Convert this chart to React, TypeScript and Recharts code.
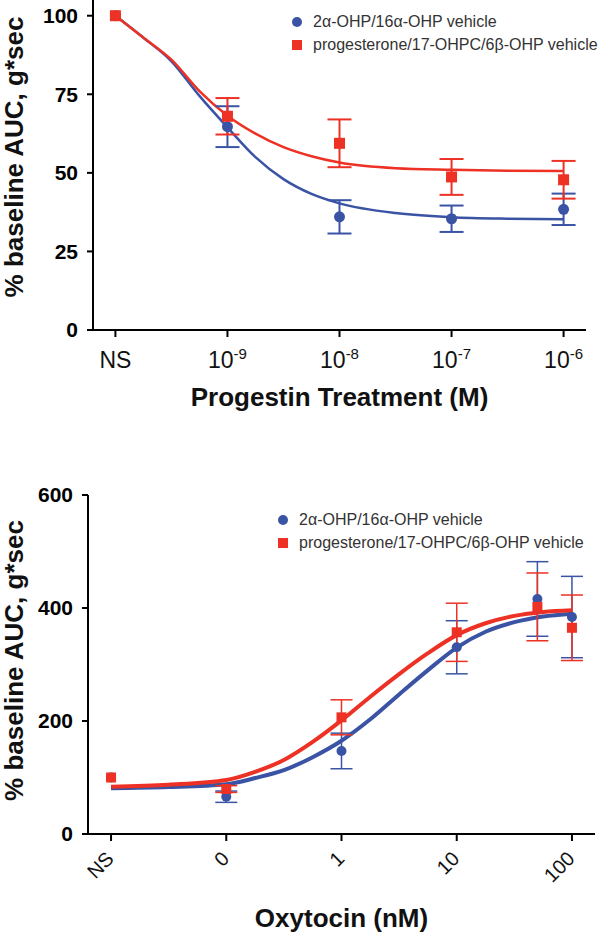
import React from 'react';
import { ComposedChart, Line, Scatter, XAxis, YAxis, ErrorBar, Legend, Label } from 'recharts';

const BLUE = '#3a53a4';
const RED = '#ed3124';
const FONT = '"Liberation Sans", Arial, Helvetica, sans-serif';

const seriesNames = ['2\u03b1-OHP/16\u03b1-OHP vehicle', 'progesterone/17-OHPC/6\u03b2-OHP vehicle'];
const yTitle = '% baseline AUC, g*sec';

// top panel - progestin dose (NS, 1e-9 .. 1e-6 M), positions on a log axis
const progX = [0, 1, 2, 3, 4];
const progTickBase = ['NS', '10', '10', '10', '10'];
const progTickExp = ['', '-9', '-8', '-7', '-6'];
const progYTicks = [0, 25, 50, 75, 100];
const progBlueMean = [100, 64.7, 36.0, 35.4, 38.4];
const progBlueSem = [null, 6.5, 5.3, 4.2, 5.0];
const progRedMean = [100, 68.0, 59.4, 48.7, 47.8];
const progRedSem = [null, 5.8, 7.6, 5.7, 6.0];
// fitted curves
const progFitX = [0, 0.25, 0.5, 0.75, 1, 1.25, 1.5, 1.75, 2, 2.5, 3, 3.5, 4];
const progBlueFit = [100, 93, 85.5, 74.5, 64.5, 55, 48, 43.3, 40.3, 37.2, 35.9, 35.4, 35.2];
const progRedFit = [100, 93, 86, 76, 68.2, 62.5, 58.2, 55.3, 53.3, 51.5, 51.0, 50.7, 50.6];

// bottom panel - oxytocin (nM)
const oxyX = [0, 1, 2, 3, 3.7, 4];
const oxyTicks = [0, 1, 2, 3, 4];
const oxyTickLabels = ['NS', '0', '1', '10', '100'];
const oxyYTicks = [0, 200, 400, 600];
const oxyBlueMean = [100, 66, 147, 330.5, 416, 384];
const oxyBlueSem = [null, 10, 31.5, 47, 66, 72];
const oxyRedMean = [100, 79.6, 206.5, 357, 402, 365];
const oxyRedSem = [null, 6, 31, 51.5, 60, 58];
const oxyFitX = [0, 0.5, 1, 1.25, 1.5, 1.75, 2, 2.25, 2.5, 2.75, 3, 3.25, 3.5, 3.75, 4];
const oxyBlueFit = [81, 83, 88, 99, 113, 136, 165, 203, 247, 290, 330, 358, 375, 385, 390];
const oxyRedFit = [83.7, 87.3, 95.6, 110, 131, 163, 201, 243, 283, 320, 352, 373, 386, 393, 396];

const pts = (xs: number[], ys: number[], es: (number | null)[]) =>
  xs.map((x, i) => ({ x, y: ys[i], err: es[i] }));
const curve = (xs: number[], ys: number[]) => xs.map((x, i) => ({ x, y: ys[i] }));

const circleShape = (r: number) => (p: any) => <circle cx={p.cx} cy={p.cy} r={r} fill={BLUE} />;
const squareShape = (s: number) => (p: any) => (
  <rect x={p.cx - s / 2} y={p.cy - s / 2} width={s} height={s} fill={RED} />
);

const ProgTick = (props: any) => {
  const i = progX.indexOf(props.payload.value);
  return (
    <text x={props.x} y={props.y + 31} textAnchor="middle" fontFamily={FONT} fontSize={23} fill="#111">
      {progTickBase[i]}
      {progTickExp[i] && (
        <tspan dy={-9} fontSize={15}>
          {progTickExp[i]}
        </tspan>
      )}
    </text>
  );
};

const OxyTick = (props: any) => {
  const i = oxyTicks.indexOf(props.payload.value);
  return (
    <g transform={`translate(${props.x + 4},${props.y + 19})`}>
      <text textAnchor="end" transform="rotate(-45)" fontFamily={FONT} fontSize={20} fill="#111">
        {oxyTickLabels[i]}
      </text>
    </g>
  );
};

const yTitleContent = (dy: number) => (p: any) => {
  const cy = p.viewBox.y + p.viewBox.height / 2 + dy;
  return (
    <text
      x={14}
      y={cy}
      transform={`rotate(-90 14 ${cy})`}
      textAnchor="middle"
      dominantBaseline="central"
      fontFamily={FONT}
      fontSize={26}
      fontWeight="bold"
      fill="#111"
    >
      {yTitle}
    </text>
  );
};

const xTitleContent = (text: string, baseline: number) => (p: any) => (
  <text
    x={p.viewBox.x + p.viewBox.width / 2}
    y={baseline}
    textAnchor="middle"
    fontFamily={FONT}
    fontSize={26}
    fontWeight="bold"
    fill="#111"
  >
    {text}
  </text>
);

const LegendBox = () => (
  <div style={{ fontFamily: FONT, fontSize: 16, color: '#333', width: 330 }}>
    {seriesNames.map((name, i) => (
      <div key={name} style={{ position: 'relative', height: 23.5, whiteSpace: 'nowrap' }}>
        <svg width={12} height={12} style={{ position: 'absolute', left: 0, top: 5.75 }}>
          {i === 0 ? <circle cx={6} cy={6} r={5} fill={BLUE} /> : <rect x={1} y={1} width={10} height={10} fill={RED} />}
        </svg>
        <span style={{ position: 'absolute', left: 22, top: 2.5, lineHeight: '18px' }}>{name}</span>
      </div>
    ))}
  </div>
);

const axisLine = { stroke: '#000', strokeWidth: 2 };
const yTickStyle = { fontFamily: FONT, fontSize: 21, fontWeight: 'bold', fill: '#000' };

export default function App() {
  return (
    <div style={{ position: 'absolute', left: 0, top: 0, width: 606, height: 933, background: '#fff', overflow: 'hidden' }}>
      <div style={{ position: 'absolute', left: 0, top: 0 }}>
        <ComposedChart width={606} height={420} margin={{ top: 0, right: 20, bottom: 10, left: 1 }}>
          <XAxis
            type="number"
            dataKey="x"
            domain={[-0.2, 4.2]}
            ticks={progX}
            tick={<ProgTick />}
            tickSize={7}
            tickMargin={0}
            height={80}
            axisLine={axisLine}
            tickLine={axisLine}
          >
            <Label content={xTitleContent('Progestin Treatment (M)', 406)} />
          </XAxis>
          <YAxis
            type="number"
            domain={[0, 105]}
            ticks={progYTicks}
            width={92}
            tickSize={6}
            tickMargin={9}
            tick={yTickStyle}
            axisLine={axisLine}
            tickLine={axisLine}
          >
            <Label content={yTitleContent(-8)} />
          </YAxis>
          <Legend
            layout="vertical"
            align="center"
            verticalAlign="middle"
            content={<LegendBox />}
            wrapperStyle={{ left: 291, top: 10, width: 330 }}
          />
          <Line data={curve(progFitX, progBlueFit)} dataKey="y" type="monotone" stroke={BLUE} strokeWidth={2.5} dot={false} isAnimationActive={false} />
          <Line data={curve(progFitX, progRedFit)} dataKey="y" type="monotone" stroke={RED} strokeWidth={2.5} dot={false} isAnimationActive={false} />
          <Scatter data={pts(progX, progBlueMean, progBlueSem)} dataKey="y" shape={circleShape(5.5)} isAnimationActive={false}>
            <ErrorBar dataKey="err" direction="y" width={12} stroke={BLUE} strokeWidth={2} isAnimationActive={false} />
          </Scatter>
          <Scatter data={pts(progX, progRedMean, progRedSem)} dataKey="y" shape={squareShape(11)} isAnimationActive={false}>
            <ErrorBar dataKey="err" direction="y" width={12} stroke={RED} strokeWidth={2} isAnimationActive={false} />
          </Scatter>
        </ComposedChart>
      </div>
      <div style={{ position: 'absolute', left: 0, top: 440 }}>
        <ComposedChart width={606} height={493} margin={{ top: 55, right: 11, bottom: 9, left: 1 }}>
          <XAxis
            type="number"
            dataKey="x"
            domain={[-0.2, 4.2]}
            ticks={oxyTicks}
            tick={<OxyTick />}
            tickSize={7}
            tickMargin={0}
            height={90}
            axisLine={axisLine}
            tickLine={axisLine}
          >
            <Label content={xTitleContent('Oxytocin (nM)', 487)} />
          </XAxis>
          <YAxis
            type="number"
            domain={[0, 600]}
            ticks={oxyYTicks}
            width={87}
            tickSize={6}
            tickMargin={9}
            tick={yTickStyle}
            axisLine={axisLine}
            tickLine={axisLine}
          >
            <Label content={yTitleContent(-4)} />
          </YAxis>
          <Legend
            layout="vertical"
            align="center"
            verticalAlign="middle"
            content={<LegendBox />}
            wrapperStyle={{ left: 277, top: 68, width: 330 }}
          />
          <Line data={curve(oxyFitX, oxyBlueFit)} dataKey="y" type="monotone" stroke={BLUE} strokeWidth={4} dot={false} isAnimationActive={false} />
          <Line data={curve(oxyFitX, oxyRedFit)} dataKey="y" type="monotone" stroke={RED} strokeWidth={4} dot={false} isAnimationActive={false} />
          <Scatter data={pts(oxyX, oxyBlueMean, oxyBlueSem)} dataKey="y" shape={circleShape(5)} isAnimationActive={false}>
            <ErrorBar dataKey="err" direction="y" width={11} stroke={BLUE} strokeWidth={1.5} isAnimationActive={false} />
          </Scatter>
          <Scatter data={pts(oxyX, oxyRedMean, oxyRedSem)} dataKey="y" shape={squareShape(10)} isAnimationActive={false}>
            <ErrorBar dataKey="err" direction="y" width={11} stroke={RED} strokeWidth={1.5} isAnimationActive={false} />
          </Scatter>
        </ComposedChart>
      </div>
    </div>
  );
}
